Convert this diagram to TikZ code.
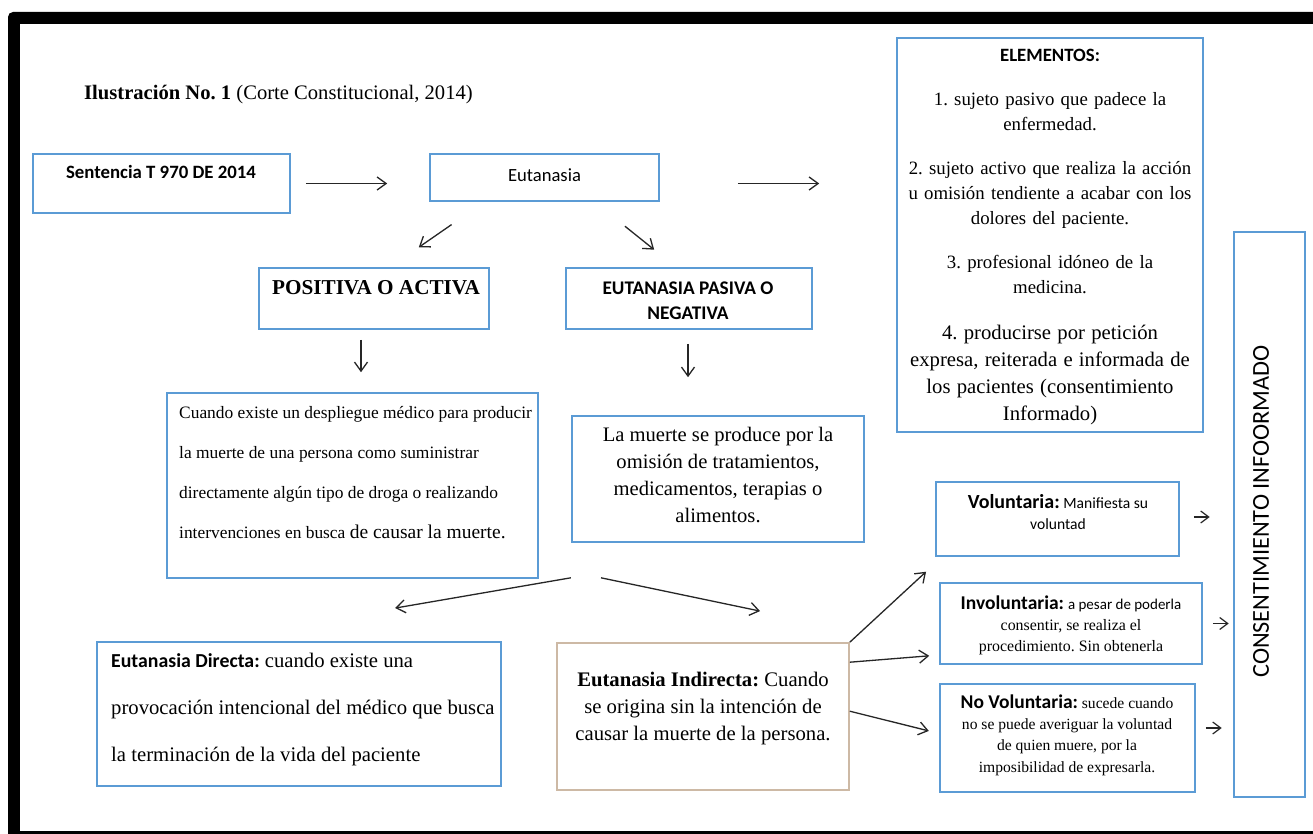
\documentclass[tikz,border=0pt]{standalone}
\usepackage{fontspec}
\usetikzlibrary{arrows.meta}
\setmainfont{Liberation Serif}
\newfontfamily\calibri{Carlito}
\frenchspacing
\definecolor{cajaazul}{RGB}{91,155,213}
\definecolor{cajacafe}{RGB}{205,185,165}
\tikzset{
  caja/.style={draw=cajaazul, line width=1.6pt, inner sep=0pt},
  texto/.style={inner sep=0pt, align=center},
  flecha/.style={-{Straight Barb[length=9pt, width=13pt]}, line width=1.3pt, black!85},
  flechita/.style={-{Straight Barb[length=8pt, width=12pt]}, line width=1.2pt, black!85},
}
\begin{document}
\begin{tikzpicture}[x=1pt, y=-1pt]
    \useasboundingbox (0,0) rectangle (1313,834);
    \clip (0,0) rectangle (1313,834);
    \fill[black, rounded corners=5pt] (8,845) |- (1330,12) -- (1330,845) -- cycle;
    \fill[white] (20,24) rectangle (1330,831);

    \node[anchor=west, inner sep=0pt, font=\fontsize{20.6}{24}\selectfont] (titulo) at (84,95)
        {\textbf{Ilustración No. 1} (Corte Constitucional, 2014)};

    % cajas
    \node[caja, minimum width=257pt, minimum height=59pt] (sent) at (161.5,183.5) {};
    \node[caja, minimum width=229pt, minimum height=47pt] (eut) at (544.5,177.5) {};
    \node[caja, minimum width=306pt, minimum height=394pt] (elem) at (1050,235) {};
    \node[caja, minimum width=230pt, minimum height=61pt] (pos) at (374,298.5) {};
    \node[caja, minimum width=246pt, minimum height=61pt] (neg) at (689,298.5) {};
    \node[caja, minimum width=371pt, minimum height=185pt] (cuando) at (352.5,485.5) {};
    \node[caja, minimum width=292pt, minimum height=126pt] (muerte) at (718,479) {};
    \node[caja, minimum width=404pt, minimum height=144pt] (directa) at (299,714) {};
    \node[caja, draw=cajacafe, minimum width=292pt, minimum height=147pt] (indirecta) at (703,716.5) {};
    \node[caja, minimum width=243pt, minimum height=74pt] (vol) at (1057.5,519) {};
    \node[caja, minimum width=262pt, minimum height=81pt] (invol) at (1071,623.5) {};
    \node[caja, minimum width=255pt, minimum height=108pt] (novol) at (1067.5,738) {};
    \node[caja, minimum width=71pt, minimum height=565pt] (consent) at (1269.5,514.5) {};

    % textos
    \node[texto, font=\calibri\bfseries\fontsize{18.8}{22}\selectfont] (senttxt) at (161,172) {Sentencia T 970 DE 2014};
    \node[texto, font=\calibri\fontsize{18.6}{22}\selectfont] (euttxt) at (544.5,175) {Eutanasia};
    \node[texto, text width=300pt, font=\fontsize{18.8}{25}\selectfont] (elemtxt) at (1050,237.5) {%
        {\calibri\bfseries ELEMENTOS:}\\[19pt]
        1. sujeto pasivo que padece la\\enfermedad.\\[19pt]
        2. sujeto activo que realiza la acción\\u omisión tendiente a acabar con los\\dolores del paciente.\\[19pt]
        3. profesional idóneo de la\\medicina.\par\vspace{19pt}
        \fontsize{20.7}{27}\selectfont 4. producirse por petición\\expresa, reiterada e informada de\\los pacientes (consentimiento\\Informado)\par};
    \node[texto, font=\bfseries\fontsize{21.2}{24}\selectfont] (postxt) at (376,288) {POSITIVA O ACTIVA};
    \node[texto, font=\calibri\bfseries\fontsize{19.3}{25}\selectfont] (negtxt) at (688,300.5) {EUTANASIA PASIVA O\\NEGATIVA};
    \node[texto, align=left, anchor=west, font=\fontsize{17.4}{40}\selectfont] (cuandotxt) at (179,473) {%
        Cuando existe un despliegue médico para producir\\la muerte de una persona como suministrar\\%
        directamente algún tipo de droga o realizando\\intervenciones en busca {\fontsize{19.5}{40}\selectfont de causar la muerte.}};
    \node[texto, font=\fontsize{20.6}{27}\selectfont] (muertetxt) at (718,475) {%
        La muerte se produce por la\\omisión de tratamientos,\\medicamentos, terapias o\\alimentos.};
    \node[texto, align=left, anchor=west, font=\fontsize{20.7}{47}\selectfont] (directatxt) at (111,709.5) {%
        {\calibri\bfseries\fontsize{19.8}{47}\selectfont Eutanasia Directa:} cuando existe una\\%
        provocación intencional del médico que busca\\la terminación de la vida del paciente};
    \node[texto, font=\fontsize{20.7}{27}\selectfont] (indirectatxt) at (703,708.5) {%
        \textbf{Eutanasia Indirecta:} Cuando\\se origina sin la intención de\\causar la muerte de la persona.};
    \node[texto, font=\calibri\fontsize{15.6}{21}\selectfont] (voltxt) at (1058,512) {%
        {\bfseries\fontsize{20}{21}\selectfont Voluntaria:} Manifiesta su\\voluntad};
    \node[texto, font=\fontsize{15.9}{21}\selectfont] (involtxt) at (1071,625) {%
        {\calibri\bfseries\fontsize{19.5}{21}\selectfont Involuntaria:} {\calibri\fontsize{15}{21}\selectfont a pesar de poderla}\\%
        consentir, se realiza el\\procedimiento. Sin obtenerla};
    \node[texto, font=\fontsize{15.6}{21.3}\selectfont] (novoltxt) at (1067,735) {%
        {\calibri\bfseries\fontsize{19.5}{21.3}\selectfont No Voluntaria:} sucede cuando\\%
        no se puede averiguar la voluntad\\de quien muere, por la\\imposibilidad de expresarla.};
    \node[texto, rotate=90, font=\calibri\fontsize{24.3}{28}\selectfont] (consenttxt) at (1261,511.5) {CONSENTIMIENTO INFOORMADO};

    % flechas
    \draw[flecha, shorten <=15pt, shorten >=42pt] (sent.east) -- (sent.east -| eut.west);
    \draw[flecha, shorten <=78pt, shorten >=77pt] ([yshift=-6pt]eut.east) -- ([yshift=-6pt]eut.east -| elem.west);
    \draw[flecha, shorten <=40pt, shorten >=35pt] ([xshift=-60pt]eut.south) -- ([xshift=16pt]pos.north);
    \draw[flecha, shorten <=39pt, shorten >=28pt] ([xshift=50pt]eut.south) -- ([xshift=-13pt]neg.north);
    \draw[flecha, shorten <=10pt, shorten >=20pt] ([xshift=-13pt]pos.south) -- ([xshift=-13pt]pos.south |- cuando.north);
    \draw[flecha, shorten <=14pt, shorten >=38pt] ([xshift=-1pt]neg.south) -- ([xshift=-1pt]neg.south |- muerte.north);
    \draw[flecha, shorten >=195pt] ([xshift=32pt,yshift=1pt]cuando.south east) -- ([xshift=-96pt]directa.north);
    \draw[flecha, shorten >=152pt] ([xshift=-117pt,yshift=-35pt]muerte.south) -- ([xshift=59pt]indirecta.north east);
    \draw[flecha, shorten >=22pt] (indirecta.north east) -- ([xshift=7pt]vol.south west);
    \draw[flecha, shorten >=10pt] ([yshift=-20pt]indirecta.north east) -- ([yshift=-31.5pt]invol.west);
    \draw[flecha, shorten >=10.7pt] ([yshift=-69pt]indirecta.north east) -- ([yshift=4.5pt]novol.west);
    \draw[flechita, shorten <=14pt, shorten >=23.5pt] ([yshift=2pt]vol.east) -- ([yshift=2pt]vol.east -| consent.west);
    \draw[flechita, shorten <=10pt, shorten >=4.5pt] (invol.east) -- (invol.east -| consent.west);
    \draw[flechita, shorten <=10pt, shorten >=11.5pt] ([yshift=10pt]novol.east) -- ([yshift=10pt]novol.east -| consent.west);
\end{tikzpicture}
\end{document}
